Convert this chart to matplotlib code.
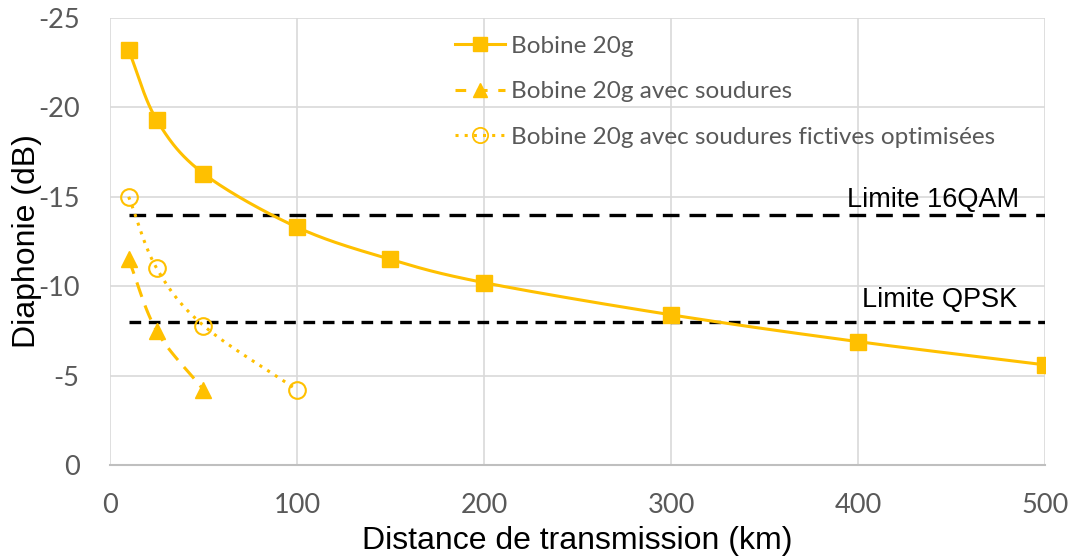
import matplotlib
matplotlib.use("Agg")
import matplotlib.pyplot as plt
from matplotlib.lines import Line2D
import numpy as np

plt.rcParams["axes.unicode_minus"] = False

# data
dist_bobine = [10, 25, 50, 100, 150, 200, 300, 400, 500]
xt_bobine = [-23.2, -19.3, -16.3, -13.3, -11.5, -10.2, -8.4, -6.9, -5.6]

dist_soudures = [10, 25, 50]
xt_soudures = [-11.5, -7.5, -4.2]

dist_fictives = [10, 25, 50, 100]
xt_fictives = [-15.0, -11.0, -7.8, -4.2]

limites = {"Limite 16QAM": -14, "Limite QPSK": -8}
lim_x = [10, 500]

couleur = "#FFC000"
gris = "#595959"


def lisse(x, y, n=40):
    # catmull-rom, just for drawing the smoothed line like excel does
    x = np.asarray(x, float)
    y = np.asarray(y, float)
    px = np.concatenate([[2 * x[0] - x[1]], x, [2 * x[-1] - x[-2]]])
    py = np.concatenate([[2 * y[0] - y[1]], y, [2 * y[-1] - y[-2]]])
    xs, ys = [], []
    t = np.linspace(0, 1, n)
    for i in range(1, len(px) - 2):
        for p, out in ((px, xs), (py, ys)):
            p0, p1, p2, p3 = p[i - 1], p[i], p[i + 1], p[i + 2]
            out.extend(0.5 * ((2 * p1) + (-p0 + p2) * t
                              + (2 * p0 - 5 * p1 + 4 * p2 - p3) * t ** 2
                              + (-p0 + 3 * p1 - 3 * p2 + p3) * t ** 3))
    return xs, ys


fig = plt.figure(figsize=(10.78, 5.58), dpi=100)
ax = fig.add_axes([0.102, 0.1667, 0.8674, 0.801])

# series
sx, sy = lisse(dist_bobine, xt_bobine)
ax.plot(sx, sy, color=couleur, lw=2.2, zorder=3)
ax.plot(dist_bobine, xt_bobine, ls="none", marker="s", ms=12, color=couleur, zorder=4)

sx, sy = lisse(dist_soudures, xt_soudures)
ax.plot(sx, sy, color=couleur, lw=2.2, ls=(0, (5, 3)), zorder=3)
ax.plot(dist_soudures, xt_soudures, ls="none", marker="^", ms=12, color=couleur, zorder=4)

sx, sy = lisse(dist_fictives, xt_fictives)
ax.plot(sx, sy, color=couleur, lw=2.2, ls=(0, (1, 2)), zorder=3)
ax.plot(dist_fictives, xt_fictives, ls="none", marker="o", ms=12, mfc="none",
        mec=couleur, mew=1.5, color=couleur, zorder=4)

# legend
h = [Line2D([], [], color=couleur, lw=2.2, marker="s", ms=10),
     Line2D([], [], color=couleur, lw=2.2, ls=(0, (3.5, 3.5)), marker="^", ms=10),
     Line2D([], [], color=couleur, lw=2.2, ls=(0, (1, 2)), marker="o", ms=11,
            mfc="none", mew=1.3)]
leg = ax.legend(h, ["Bobine 20g", "Bobine 20g avec soudures",
                    "Bobine 20g avec soudures fictives optimisées"],
                loc="upper left", bbox_to_anchor=(0.369, 0.96), frameon=False,
                prop={"family": "Lato", "size": 17.5}, labelspacing=1.0,
                handlelength=2.05, handletextpad=0.25, borderaxespad=0, borderpad=0)
for t in leg.get_texts():
    t.set_color(gris)

# limits
ax.plot(lim_x, [limites["Limite 16QAM"]] * 2, color="black", lw=2.4,
        ls=(0, (5, 3)), zorder=2)
ax.plot(lim_x, [limites["Limite QPSK"]] * 2, color="black", lw=2.4,
        ls=(0, (3.5, 2.3)), zorder=2)
ax.text(486, limites["Limite 16QAM"] - 0.1, "Limite 16QAM", ha="right", va="bottom",
        fontsize=19.5, family="Liberation Sans")
ax.text(485, limites["Limite QPSK"] - 0.5, "Limite QPSK", ha="right", va="bottom",
        fontsize=19.5, family="Liberation Sans")

ax.set_xlim(0, 500)
ax.set_ylim(0, -25)
ax.set_xticks(np.arange(0, 501, 100))
ax.set_yticks(np.arange(0, -26, -5))
ax.grid(True, color="#d9d9d9", lw=1.2, zorder=0)
ax.set_axisbelow(True)
for s in ax.spines.values():
    s.set_visible(False)
ax.spines["bottom"].set_visible(True)
ax.spines["bottom"].set_color("#bfbfbf")
ax.spines["bottom"].set_linewidth(1.5)
ax.tick_params(length=0, labelsize=19.5, labelcolor=gris)
ax.tick_params(axis="y", pad=22)
ax.tick_params(axis="x", pad=20)
for lab in ax.get_xticklabels() + ax.get_yticklabels():
    lab.set_family("Lato")

ax.set_xlabel("Distance de transmission (km)", fontsize=23, family="Liberation Sans",
              labelpad=6)
ax.set_ylabel("Diaphonie (dB)", fontsize=23, family="Liberation Sans", labelpad=-3)

fig.savefig("out.png", dpi=100)
